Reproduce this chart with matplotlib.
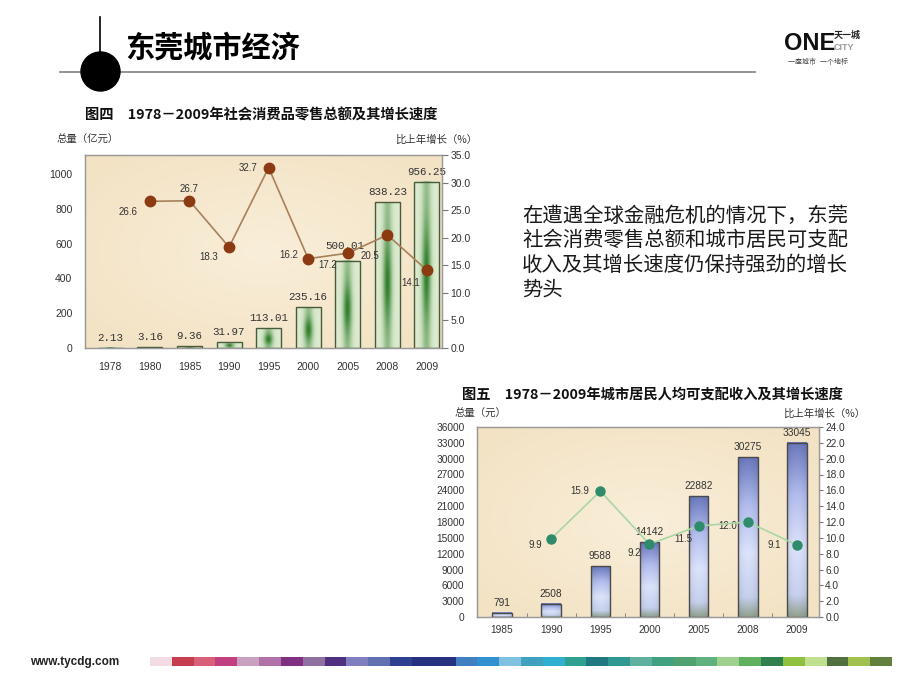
import numpy as np
import matplotlib
matplotlib.use("Agg")
import matplotlib.pyplot as plt
from matplotlib.patches import Circle, Rectangle
from matplotlib.colors import to_rgb

plt.rcParams['font.family'] = ['Liberation Sans', 'Noto Sans CJK SC', 'DejaVu Sans']

W, H = 920, 690

# ---- data: 图四 社会消费品零售总额 ----
retail_years = ['1978', '1980', '1985', '1990', '1995', '2000', '2005', '2008', '2009']
retail_total = [2.13, 3.16, 9.36, 31.97, 113.01, 235.16, 500.01, 838.23, 956.25]
retail_growth = [np.nan, 26.6, 26.7, 18.3, 32.7, 16.2, 17.2, 20.5, 14.1]

# ---- data: 图五 城市居民人均可支配收入 ----
income_years = ['1985', '1990', '1995', '2000', '2005', '2008', '2009']
income_total = [791, 2508, 9588, 14142, 22882, 30275, 33045]
income_growth = [np.nan, 9.9, 15.9, 9.2, 11.5, 12.0, 9.1]

# footer colour strip
strip_colors = ['#f3dbe4', '#c83c50', '#d86078', '#c04080', '#c8a0c0', '#b070a8', '#803080',
                '#9070a0', '#503080', '#8080c0', '#6070b0', '#304090', '#283080', '#283080',
                '#4080c0', '#3090d0', '#80c0e0', '#40a0c0', '#30b0d0', '#30a090', '#207880',
                '#309890', '#60b0a0', '#40a080', '#50a070', '#60b080', '#a0d090', '#60b060',
                '#308050', '#90c040', '#c0e090', '#507040', '#a0c050', '#608040']


def rect_px(left, top, right, bottom):
    return [left / W, 1 - bottom / H, (right - left) / W, (bottom - top) / H]


def add_bg(ax):
    u = np.linspace(-1, 1, 80)
    U, V = np.meshgrid(u, u)
    r = np.clip(np.sqrt(U ** 2 + V ** 2) / 1.4, 0, 1)
    c_in = np.array(to_rgb('#f9eed9'))
    c_out = np.array(to_rgb('#f3e2c3'))
    img = c_in * (1 - r[..., None]) + c_out * r[..., None]
    ax.imshow(img, extent=(0, 1, 0, 1), transform=ax.transAxes, aspect='auto',
              zorder=0, interpolation='bilinear')


def green_grad():
    U, V = np.meshgrid(np.linspace(0, 1, 24), np.linspace(0, 1, 60))
    f = np.exp(-((U - 0.5) / 0.18) ** 2) * (0.4 + 0.6 * np.exp(-((V - 0.45) / 0.28) ** 2))
    light = np.array(to_rgb('#dcebcf'))
    dark = np.array(to_rgb('#2f7d2a'))
    return light * (1 - f[..., None]) + dark * f[..., None]


def blue_grad():
    v = np.linspace(0, 1, 60)
    stops = [0, 0.12, 0.4, 0.7, 1]
    cols = [to_rgb(c) for c in ['#93a494', '#c6d1ee', '#dce3fb', '#b3bdee', '#6b79be']]
    col = np.stack([np.interp(v, stops, [c[k] for c in cols]) for k in range(3)], axis=-1)
    u = np.linspace(-1, 1, 24)
    shade = 1 - 0.08 * u ** 2
    return np.clip(col[:, None, :] * shade[None, :, None], 0, 1)


def draw_bars(ax, totals, w, img, edge):
    x = np.arange(len(totals))
    for i, h in enumerate(totals):
        ax.imshow(img, extent=(i - w / 2, i + w / 2, 0, h), origin='lower', aspect='auto',
                  zorder=2, interpolation='bilinear')
    ax.bar(x, totals, width=w, facecolor='none', edgecolor=edge, lw=1.0, zorder=3)


def style_axes(ax, ax2):
    for a in (ax, ax2):
        for s in a.spines.values():
            s.set_color('#9a9a9a')
            s.set_linewidth(0.9)


fig = plt.figure(figsize=(W / 100, H / 100), dpi=100)
fig.patch.set_facecolor('white')

# ---- slide decoration ----
deco = fig.add_axes([0, 0, 1, 1], zorder=-1)
deco.set_xlim(0, W)
deco.set_ylim(H, 0)
deco.axis('off')
deco.plot([60, 755], [72, 72], color='#8a8a8a', lw=1.3)
deco.plot([100, 100], [17, 60], color='black', lw=1.2)
deco.add_patch(Circle((100.5, 71.5), 19.5, color='black', zorder=3))
deco.text(125, 48, '东莞城市经济', fontsize=21, fontweight='bold', va='center', ha='left',
          family=['Noto Sans CJK SC'])

# logo
deco.text(784, 43, 'ONE', fontsize=17, fontweight='bold', va='center', ha='left', color='#111')
deco.text(834, 35, '天一城', fontsize=6.5, fontweight='bold', va='center', ha='left', color='#222')
deco.text(834, 47, 'CITY', fontsize=6.5, fontweight='bold', va='center', ha='left', color='#999')
deco.text(788, 62, '一座城市  一个地标', fontsize=5, va='center', ha='left', color='#444')

# paragraph
para = ['在遭遇全球金融危机的情况下，东莞', '社会消费零售总额和城市居民可支配',
        '收入及其增长速度仍保持强劲的增长', '势头']
for k, line in enumerate(para):
    deco.text(522, 216 + k * 24.8, line, fontsize=14.7, va='center', ha='left', color='#1a1a1a',
              family=['Noto Sans CJK SC'])

# footer
deco.text(30, 662, 'www.tycdg.com', fontsize=8.5, fontweight='bold', va='center', ha='left', color='#222')
sw = (892 - 150) / len(strip_colors)
for k, c in enumerate(strip_colors):
    deco.add_patch(Rectangle((150 + k * sw, 657), sw + 0.3, 9, color=c, lw=0))

# chart titles / axis captions
deco.text(85, 115, '图四　1978－2009年社会消费品零售总额及其增长速度', fontsize=10.3, fontweight='bold',
          va='center', ha='left', family=['Noto Sans CJK SC'], color='#111')
deco.text(57, 140, '总量（亿元）', fontsize=7.5, va='center', ha='left', color='#333', family=['Noto Sans CJK SC'])
deco.text(395, 140, '比上年增长（%）', fontsize=7.5, va='center', ha='left', color='#333', family=['Noto Sans CJK SC'])

deco.text(462, 395, '图五　1978－2009年城市居民人均可支配收入及其增长速度', fontsize=10.3, fontweight='bold',
          va='center', ha='left', family=['Noto Sans CJK SC'], color='#111')
deco.text(455, 414, '总量（元）', fontsize=7.5, va='center', ha='left', color='#333', family=['Noto Sans CJK SC'])
deco.text(783, 414, '比上年增长（%）', fontsize=7.5, va='center', ha='left', color='#333', family=['Noto Sans CJK SC'])

# ---- 图四 ----
ax = fig.add_axes(rect_px(85, 155, 442, 348))
ax2 = ax.twinx()
add_bg(ax)
draw_bars(ax, retail_total, 0.63, green_grad(), '#4a5a3a')
x1 = np.arange(len(retail_years))
retail_label_lift = [10, 10, 10, 10, 10, 10, 15, 10, 10]
for i, h in enumerate(retail_total):
    ax.annotate(f'{h:.2f}', (i, h), xytext=(-3 if i == 6 else 0, retail_label_lift[i]),
                textcoords='offset pixels', ha='center', va='center', fontsize=7.8,
                family=['Liberation Mono'], color='#333')
ax2.plot(x1, retail_growth, color='#a8805a', lw=1.2, zorder=4)
ax2.plot(x1, retail_growth, 'o', color='#8b3a12', ms=7.5, zorder=5)
retail_offsets = [(0, 0), (-22, -11), (0, 12), (-20, -10), (-21, 0), (-19, 4), (-20, -12),
                  (-17, -21), (-16, -13)]
for i, g in enumerate(retail_growth):
    if not np.isnan(g):
        ax2.annotate(f'{g:.1f}', (i, g), xytext=retail_offsets[i], textcoords='offset pixels',
                     ha='center', va='center', fontsize=7, color='#333')
ax.set_xlim(-0.64, 8.38)
ax.set_ylim(0, 1109)
ax.set_yticks([0, 200, 400, 600, 800, 1000])
ax.set_xticks(x1, retail_years)
ax.tick_params(axis='y', length=0, pad=9, labelsize=7.5, labelcolor='#333')
ax.tick_params(axis='x', length=0, pad=10, labelsize=7.5, labelcolor='#333')
ax2.set_ylim(0, 35)
r_ticks = np.arange(0, 35.1, 5)
ax2.set_yticks(r_ticks, [f'{t:.1f}' for t in r_ticks])
ax2.tick_params(axis='y', length=4, pad=2, labelsize=7.5, labelcolor='#333', color='#777')
style_axes(ax, ax2)

# ---- 图五 ----
bx = fig.add_axes(rect_px(477, 427, 819, 617))
bx2 = bx.twinx()
add_bg(bx)
draw_bars(bx, income_total, 0.4, blue_grad(), '#4a4a4a')
x2 = np.arange(len(income_years))
for i, h in enumerate(income_total):
    bx.annotate(f'{h}', (i, h), xytext=(0, 10), textcoords='offset pixels', ha='center',
                va='center', fontsize=7.3, color='#333')
bx2.plot(x2, income_growth, color='#a9d6a6', lw=1.2, zorder=4)
bx2.plot(x2, income_growth, 'o', color='#2e8b6b', ms=6.5, zorder=5)
income_offsets = [(0, 0), (-16, -6), (-21, 0), (-15, -9), (-15, -13), (-20, -4), (-23, 0)]
for i, g in enumerate(income_growth):
    if not np.isnan(g):
        bx2.annotate(f'{g:.1f}', (i, g), xytext=income_offsets[i], textcoords='offset pixels',
                     ha='center', va='center', fontsize=7, color='#333')
bx.set_xlim(-0.51, 6.45)
bx.set_ylim(0, 36000)
bx.set_yticks(np.arange(0, 36001, 3000))
bx.set_xticks(x2, income_years)
bx.set_xticks(np.arange(0.5, 6, 1), minor=True)
bx.tick_params(axis='y', length=0, pad=9, labelsize=7.3, labelcolor='#333')
bx.tick_params(axis='x', which='major', length=0, pad=6, labelsize=7.3, labelcolor='#333')
bx.tick_params(axis='x', which='minor', length=3, direction='in', color='#777')
bx2.set_ylim(0, 24)
b_ticks = np.arange(0, 24.1, 2)
bx2.set_yticks(b_ticks, [f'{t:.1f}' for t in b_ticks])
bx2.tick_params(axis='y', length=3, pad=1.5, labelsize=7.3, labelcolor='#333', color='#777')
style_axes(bx, bx2)

fig.savefig('out.png', dpi=100)
